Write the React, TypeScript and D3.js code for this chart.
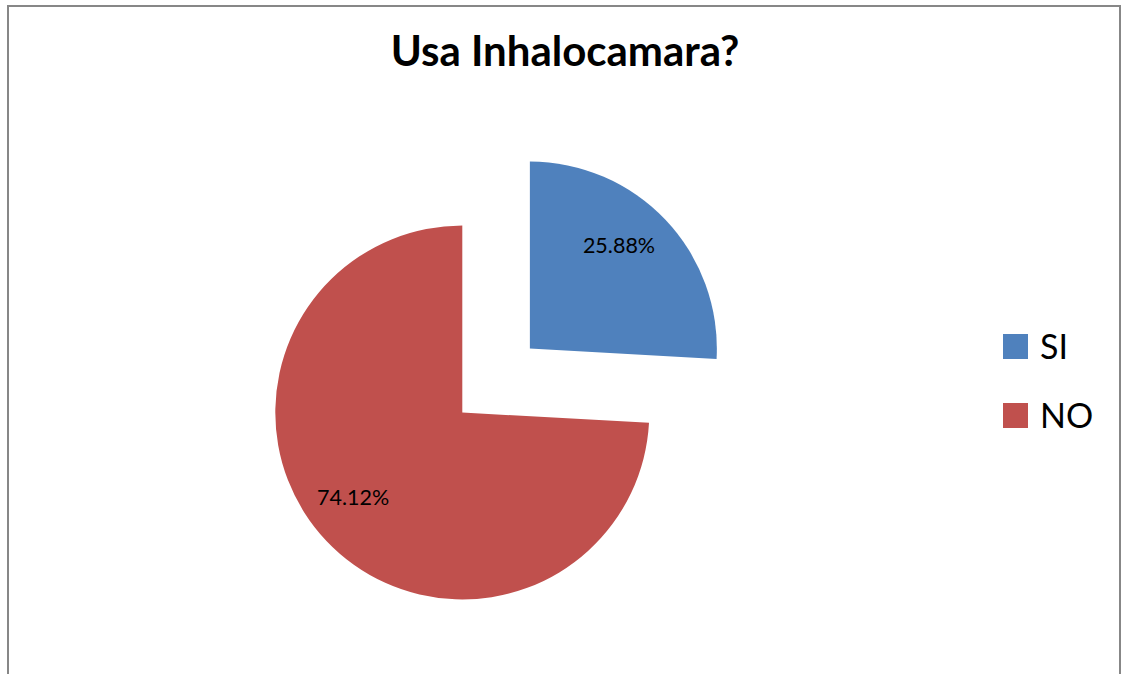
import React from "react";
import * as d3 from "d3";

const categories = ["SI", "NO"];
const values = [25.88, 74.12];
const colors = ["#4F81BD", "#C0504D"];
const title = "Usa Inhalocamara?";

const W = 1123;
const H = 674;

export default function App() {
  const cx = 462.3;
  const cy = 412.5;
  const r = 187;
  const explode = [93, 0];

  const pie = d3
    .pie<number>()
    .sort(null)
    .value((d) => d)
    .startAngle(0)
    .endAngle(2 * Math.PI);
  const arcs = pie(values);
  const arc = d3.arc<d3.PieArcDatum<number>>().innerRadius(0).outerRadius(r);

  const font = "Lato, 'Open Sans', sans-serif";

  return (
    <svg
      width={W}
      height={H}
      style={{ position: "absolute", left: 0, top: 0, background: "#fff" }}
    >
      <rect x={0} y={0} width={W} height={H} fill="#fff" />
      <rect
        x={8}
        y={6}
        width={1112}
        height={700}
        fill="#fff"
        stroke="#878787"
        strokeWidth={2}
      />
      <text
        x={565}
        y={66}
        textAnchor="middle"
        fontFamily={font}
        fontWeight="bold"
        fontSize={42}
        fill="#000"
      >
        {title}
      </text>
      {arcs.map((a, i) => {
        const mid = (a.startAngle + a.endAngle) / 2;
        const dx = Math.sin(mid) * explode[i];
        const dy = -Math.cos(mid) * explode[i];
        const lr = r * 0.73;
        const lx = Math.sin(mid) * lr - 10;
        const ly = -Math.cos(mid) * lr - 9.5;
        return (
          <g key={categories[i]} transform={`translate(${cx + dx},${cy + dy})`}>
            <path d={arc(a) || ""} fill={colors[i]} />
            <text
              x={lx}
              y={ly}
              textAnchor="middle"
              dominantBaseline="central"
              fontFamily={font}
              fontSize={21.5}
              fill="#000"
            >
              {values[i].toFixed(2)}%
            </text>
          </g>
        );
      })}
      {categories.map((c, i) => (
        <g key={c} transform={`translate(1003,${334 + i * 69})`}>
          <rect x={0} y={0} width={25} height={25} fill={colors[i]} />
          <text
            x={37}
            y={24.5}
            fontFamily={font}
            fontSize={34}
            fill="#000"
          >
            {c}
          </text>
        </g>
      ))}
    </svg>
  );
}
